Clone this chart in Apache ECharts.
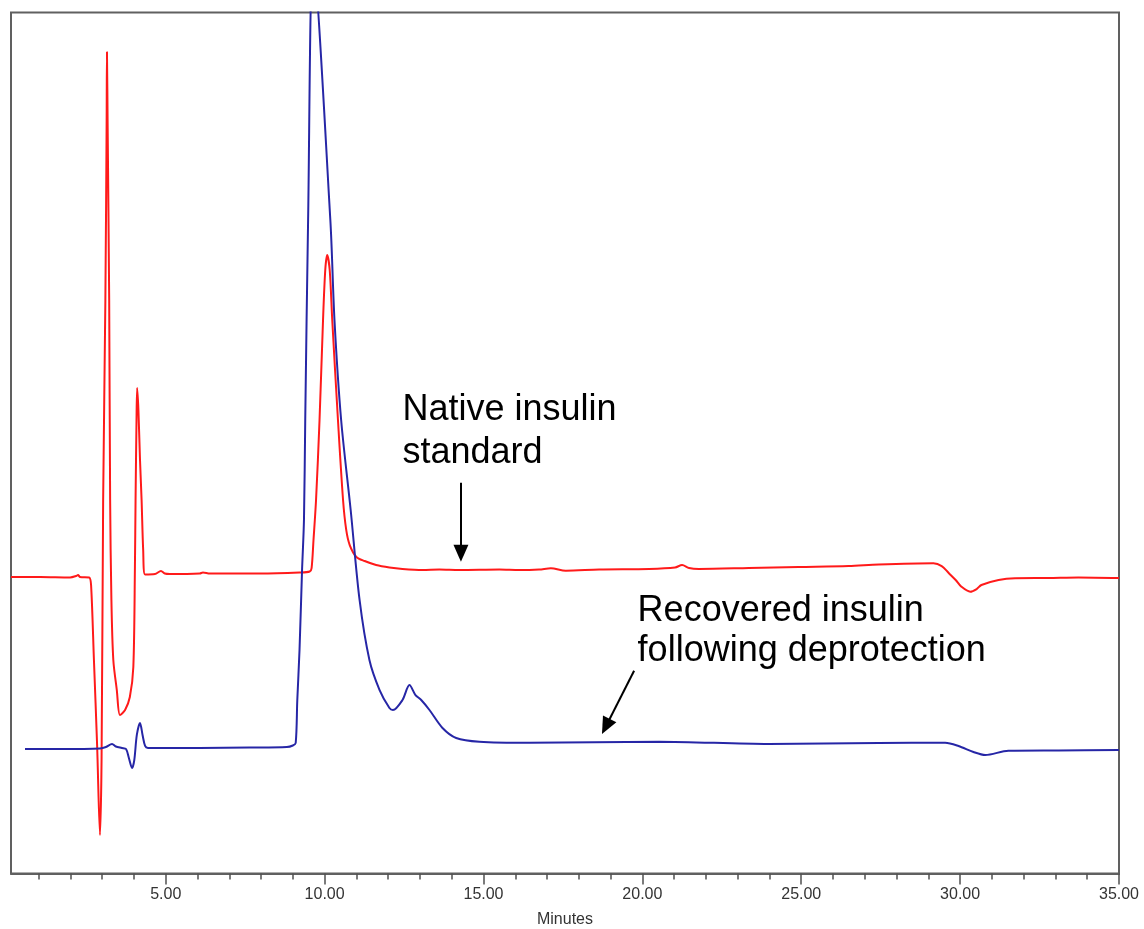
<!DOCTYPE html>
<html>
<head>
<meta charset="utf-8">
<title>Insulin chromatogram</title>
<script src="https://cdn.jsdelivr.net/npm/echarts@6/dist/echarts.min.js"></script>
<style>
  html, body { margin: 0; padding: 0; background: #ffffff; }
  #chart { width: 1144px; height: 929px; }
</style>
</head>
<body>
<div id="chart"></div>
<script>
// Retention time (minutes) and detector response for the native insulin standard
const redTime = [0.13,1.05,1.99,2.18,2.24,2.30,2.59,2.65,2.74,2.84,2.93,2.98,3.03,3.10,3.14,3.15,3.17,3.22,3.25,3.29,3.35,3.46,3.56,3.72,3.87,3.98,4.03,4.05,4.08,4.10,4.14,4.19,4.24,4.29,4.35,4.66,4.85,4.97,5.13,6.07,6.17,6.39,7.96,9.21,9.53,9.59,9.65,9.73,9.84,9.95,10.02,10.08,10.16,10.24,10.42,10.58,10.68,10.79,11.00,11.26,11.62,12.04,12.45,13.08,13.61,14.24,15.50,16.13,16.75,17.12,17.59,18.64,20.21,21.03,21.25,21.47,21.78,23.35,24.92,26.49,27.44,29.16,29.42,29.64,29.86,30.04,30.32,30.52,30.67,31.21,31.73,32.78,33.72,35.00];
const redSignal = [34.44,34.44,34.38,34.55,34.67,34.44,34.38,33.51,24.80,14.92,4.47,13.18,43.38,66.61,87.51,95.41,87.51,66.61,43.38,31.77,24.80,21.31,18.41,18.99,20.50,23.98,35.60,43.38,52.67,56.39,53.83,48.03,43.38,37.57,34.73,34.78,35.13,34.84,34.78,34.84,34.96,34.84,34.84,34.96,35.08,35.48,38.73,43.38,52.67,64.29,70.09,71.83,70.09,64.29,52.67,43.38,39.90,38.15,36.76,36.29,35.83,35.54,35.37,35.25,35.31,35.25,35.31,35.25,35.31,35.45,35.17,35.31,35.37,35.54,35.83,35.48,35.37,35.48,35.60,35.71,35.89,36.03,35.71,34.90,34.09,33.31,32.73,33.04,33.51,34.09,34.29,34.32,34.38,34.32];

// Retention time (minutes) and detector response for the recovered insulin
const blueTime = [0.57,1.67,2.93,3.12,3.31,3.43,3.62,3.75,3.84,3.94,4.01,4.09,4.19,4.27,4.35,4.44,6.07,7.64,8.81,9.00,9.09,9.14,9.21,9.29,9.35,9.39,9.48,9.64,10.18,10.31,10.52,10.82,11.10,11.41,11.73,12.04,12.15,12.45,12.67,12.86,13.04,13.30,13.71,14.14,14.87,16.44,20.53,23.98,27.44,29.53,29.95,30.42,30.79,31.52,33.09,35.00];
const blueSignal = [14.46,14.46,14.52,14.69,15.04,14.75,14.58,14.46,13.41,12.25,13.18,16.09,17.48,16.09,14.81,14.58,14.58,14.63,14.69,14.87,15.16,20.15,25.96,35.25,41.06,52.67,75.90,106.10,75.90,64.29,52.67,42.22,31.77,24.80,21.31,19.22,18.99,20.15,21.89,20.73,20.15,18.99,16.90,15.74,15.31,15.19,15.31,15.04,15.16,15.19,14.81,14.11,13.76,14.26,14.30,14.34];

// Axis ticks
const majorTicks = [5, 10, 15, 20, 25, 30, 35];
const minorTicks = [1,2,3,4,6,7,8,9,11,12,13,14,16,17,18,19,21,22,23,24,26,27,28,29,31,32,33,34];
const xLabel = 'Minutes';

// Annotations: text lines with their anchor (minutes, response) and arrows
const nativeLabel = ['Native insulin', 'standard'];
const nativeAnchor = [12.45, 56.39];
const recoveredLabel = ['Recovered insulin', 'following deprotection'];
const recoveredAnchor = [19.85, 32.83];
const nativeArrow = [[14.29, 45.39], [14.29, 37.20]];
const recoveredArrow = [[19.74, 23.55], [18.85, 17.08]];

const zip = (xs, ys) => xs.map((x, i) => [x, ys[i]]);

const chart = echarts.init(document.getElementById('chart'), null, { renderer: 'canvas' });

const arrowLine = (pts) => ({
  silent: true,
  symbol: ['none', 'triangle'],
  symbolSize: [15, 17],
  lineStyle: { color: '#000000', width: 2, type: 'solid' },
  label: { show: false },
  emphasis: { disabled: true },
  data: [[{ coord: pts[0] }, { coord: pts[1] }]]
});

const tickFont = '"Liberation Sans", Arial, sans-serif';

chart.setOption({
  animation: false,
  backgroundColor: '#ffffff',
  grid: {
    left: 11, right: 25, top: 12.5, bottom: 55.5,
    containLabel: false, outerBoundsMode: 'none',
    show: true, borderColor: '#606060', borderWidth: 2, backgroundColor: 'transparent'
  },
  xAxis: [
    {
      type: 'value', position: 'bottom', min: 0.13, max: 35,
      axisLine: { show: true, onZero: false, lineStyle: { color: '#606060', width: 2 } },
      axisTick: { show: true, customValues: majorTicks, length: 11, lineStyle: { color: '#505050', width: 1.5 } },
      axisLabel: {
        show: true, customValues: majorTicks, margin: 13,
        formatter: (v) => v.toFixed(2),
        color: '#333333', fontFamily: tickFont, fontSize: 16
      },
      splitLine: { show: false },
      name: xLabel, nameLocation: 'middle', nameGap: 38,
      nameTextStyle: { color: '#333333', fontFamily: tickFont, fontSize: 16 }
    },
    {
      type: 'value', position: 'bottom', min: 0.13, max: 35,
      axisLine: { show: false, onZero: false },
      axisTick: { show: true, customValues: minorTicks, length: 6, lineStyle: { color: '#505050', width: 1.5 } },
      axisLabel: { show: false },
      splitLine: { show: false }
    }
  ],
  yAxis: {
    type: 'value', min: 0, max: 100,
    axisLine: { show: false }, axisTick: { show: false },
    axisLabel: { show: false }, splitLine: { show: false }
  },
  series: [
    {
      name: 'Native insulin standard', type: 'line', xAxisIndex: 0,
      data: zip(redTime, redSignal), showSymbol: false, clip: true,
      smooth: 0.3,
      lineStyle: { color: '#ff1a1a', width: 2 },
      markLine: arrowLine(nativeArrow)
    },
    {
      name: 'Recovered insulin following deprotection', type: 'line', xAxisIndex: 0,
      data: zip(blueTime, blueSignal), showSymbol: false, clip: true,
      smooth: 0.3,
      lineStyle: { color: '#2626a6', width: 2 },
      markLine: arrowLine(recoveredArrow)
    }
  ]
});

// Place the annotation text at its anchor in chart coordinates
function placeLabels() {
  const items = [
    { lines: nativeLabel, anchor: nativeAnchor, lh: 43.3 },
    { lines: recoveredLabel, anchor: recoveredAnchor, lh: 40 }
  ];
  const graphic = items.map((it) => {
    const p = chart.convertToPixel({ gridIndex: 0 }, it.anchor);
    return {
      type: 'text', left: p[0], top: p[1], silent: true, z: 10,
      style: {
        text: it.lines.join('\n'),
        font: '36px "Liberation Sans", Arial, sans-serif',
        lineHeight: it.lh, fill: '#000000'
      }
    };
  });
  chart.setOption({ graphic: graphic });
}
placeLabels();
</script>
</body>
</html>
